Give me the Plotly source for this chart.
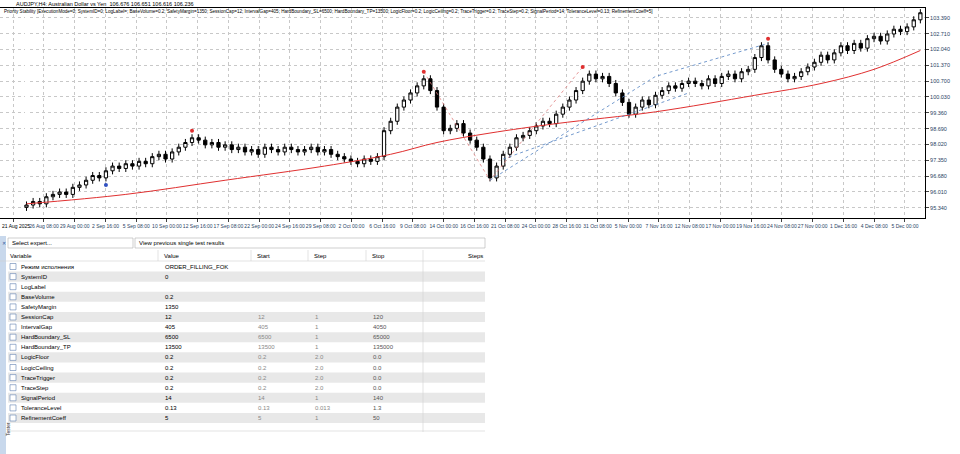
import plotly.graph_objects as go

W, H = 960, 454

# H4 closes
closes = [95.45, 95.6, 95.5, 95.8, 95.9, 96.0, 95.9, 96.2, 96.3, 96.5, 96.7, 96.6, 96.9, 97.1,
          97.0, 97.2, 97.1, 97.3, 97.2, 97.5, 97.6, 97.4, 97.7, 97.9, 98.1, 98.3, 98.2,
          98.0, 98.1, 97.9, 98.0, 97.8, 97.9, 97.7, 97.8, 97.6, 97.9, 97.8, 97.7, 97.9, 97.8,
          97.7, 97.8, 97.9, 97.7, 97.8, 97.6, 97.5, 97.4, 97.3,
          97.2, 97.4, 97.3, 97.5,
          98.6, 99.0, 99.6, 99.9, 100.2, 100.5, 100.8,
          100.3, 99.6, 98.6,
          98.7, 98.9, 98.5, 98.2, 97.9, 97.4, 96.6,
          97.1, 97.6, 97.9, 98.3, 98.4, 98.6, 98.8, 99.0, 98.9, 99.3, 99.6, 99.9, 100.3, 100.7, 101.0,
          100.8, 100.9, 100.6, 100.2, 99.8, 99.3,
          99.6, 99.9, 99.7, 100.1, 100.3, 100.5, 100.4, 100.6, 100.7,
          100.6, 100.5, 100.8, 100.6, 100.9, 101.0, 100.8, 101.1, 101.2,
          101.7, 102.2, 101.6, 101.2,
          101.0, 100.8, 100.9, 101.1, 101.3, 101.5, 101.8,
          101.6, 101.9, 102.2, 102.0, 102.3, 102.1, 102.5, 102.6, 102.4, 102.7, 102.9, 102.8, 103.0, 103.3, 103.6]
opens = [95.35] + closes[:-1]
wick = 0.15

ma_idx = [0, 15, 30, 45, 55, 62, 70, 80, 95, 110, 120, 128, 135]
ma_val = [95.5, 95.9, 96.5, 97.1, 97.6, 98.1, 98.5, 98.9, 99.4, 100.1, 100.6, 101.2, 102.0]

up_idx, up_val = [25, 60, 84, 112, 135], [98.6, 101.1, 101.3, 102.5, 103.9]
dn_idx, dn_val = [12], [96.3]

yticks = [103.39, 102.71, 102.04, 101.37, 100.70, 100.03, 99.36, 98.69, 98.02, 97.35, 96.68, 96.01, 95.34]
xlabels = ["21 Aug 2025", "26 Aug 08:00", "29 Aug 00:00", "2 Sep 16:00", "5 Sep 08:00", "10 Sep 00:00",
           "12 Sep 16:00", "17 Sep 08:00", "22 Sep 00:00", "24 Sep 16:00", "29 Sep 08:00", "2 Oct 00:00",
           "6 Oct 16:00", "9 Oct 08:00", "14 Oct 00:00", "16 Oct 16:00", "21 Oct 08:00", "24 Oct 00:00",
           "28 Oct 16:00", "31 Oct 08:00", "5 Nov 00:00", "7 Nov 16:00", "12 Nov 08:00", "17 Nov 00:00",
           "19 Nov 16:00", "24 Nov 08:00", "27 Nov 00:00", "1 Dec 16:00", "4 Dec 08:00", "5 Dec 00:00"]

variables = ["Режим исполнения", "SystemID", "LogLabel", "BaseVolume", "SafetyMargin", "SessionCap",
             "IntervalGap", "HardBoundary_SL", "HardBoundary_TP", "LogicFloor", "LogicCeiling",
             "TraceTrigger", "TraceStep", "SignalPeriod", "ToleranceLevel", "RefinementCoeff"]
values = ["ORDER_FILLING_FOK", "0", "", "0.2", "1350", "12", "405", "6500", "13500", "0.2", "0.2",
          "0.2", "0.2", "14", "0.13", "5"]
starts = ["", "", "", "", "", "12", "405", "6500", "13500", "0.2", "0.2", "0.2", "0.2", "14", "0.13", "5"]
steps = ["", "", "", "", "", "1", "1", "1", "1", "2.0", "2.0", "2.0", "2.0", "1", "0.013", "1"]
stops = ["", "", "", "", "", "120", "4050", "65000", "135000", "0.0", "0.0", "0.0", "0.0", "140", "1.3", "50"]

def px(x): return x / W
def py(y): return 1 - y / H

n = len(closes)
fig = go.Figure()
fig.add_trace(go.Candlestick(
    x=list(range(n)), open=opens, close=closes,
    high=[max(o, c) + wick for o, c in zip(opens, closes)],
    low=[min(o, c) - wick for o, c in zip(opens, closes)],
    increasing=dict(line=dict(color="black", width=1), fillcolor="white"),
    decreasing=dict(line=dict(color="black", width=1), fillcolor="black"),
    whiskerwidth=0, showlegend=False))
fig.add_scatter(x=ma_idx, y=ma_val, mode="lines", line=dict(color="#e03030", width=1, shape="spline"),
                showlegend=False)
fig.add_scatter(x=[60, 70, 84], y=[101.1, 96.5, 101.3], mode="lines",
                line=dict(color="#e08080", width=0.8, dash="dot"), showlegend=False)
fig.add_scatter(x=[70, 95, 112], y=[96.5, 100.9, 102.3], mode="lines",
                line=dict(color="#5080c0", width=0.8, dash="dot"), showlegend=False)
fig.add_scatter(x=[72, 100], y=[97.4, 100.2], mode="lines",
                line=dict(color="#5080c0", width=0.8, dash="dot"), showlegend=False)
fig.add_scatter(x=up_idx, y=up_val, mode="markers", marker=dict(color="#e03030", size=4), showlegend=False)
fig.add_scatter(x=dn_idx, y=dn_val, mode="markers", marker=dict(color="#3050c0", size=4), showlegend=False)

step = (n + 1) / (len(xlabels) - 0.5)
fig.update_xaxes(range=[-4, n - 0.3], tickvals=[i * step - 2 for i in range(len(xlabels))],
                 ticktext=[""] + xlabels[1:],
                 domain=[0, px(925)], showgrid=True, gridcolor="#c8c8c8", griddash="dot", automargin=False,
                 rangeslider_visible=False, tickfont=dict(size=5), tickangle=0, ticks="outside", ticklen=3,
                 showline=True, linecolor="black", mirror=True, anchor="y")
fig.update_yaxes(range=[94.9, 103.8], tickvals=yticks, ticktext=[f"{v:.3f}" for v in yticks],
                 side="right", domain=[py(218), py(8)], showgrid=True, gridcolor="#c8c8c8", automargin=False,
                 griddash="dot", tickfont=dict(size=5.5), ticks="outside", ticklen=3,
                 showline=True, linecolor="black", mirror=True)

shapes, ann = [], []
def text(x, y, s, size=6.5, color="black"):
    ann.append(dict(x=px(x), y=py(y), text=s, showarrow=False, xanchor="left", yanchor="middle",
                    font=dict(size=size, color=color), xref="paper", yref="paper"))
def rect(x0, y0, x1, y1, fill, line=None):
    shapes.append(dict(type="rect", xref="paper", yref="paper", x0=px(x0), x1=px(x1), y0=py(y1), y1=py(y0),
                       fillcolor=fill, line=dict(width=0.6 if line else 0, color=line or fill), layer="below"))
def hline(x0, x1, y):
    shapes.append(dict(type="line", xref="paper", yref="paper", x0=px(x0), x1=px(x1), y0=py(y), y1=py(y),
                       line=dict(color="#d0d0d0", width=0.6)))

text(14, 4, "AUDJPY,H4: Australian Dollar vs Yen  106.676 106.651 106.616 106.236", 5.5)
text(2, 12, "Priority Stability [ExecutionMode=0; SystemID=0; LogLabel=; BaseVolume=0.2; SafetyMargin=1350; SessionCap=12; IntervalGap=405; HardBoundary_SL=6500; HardBoundary_TP=13500; LogicFloor=0.2; LogicCeiling=0.2; TraceTrigger=0.2; TraceStep=0.2; SignalPeriod=14; ToleranceLevel=0.13; RefinementCoeff=5]", 4.6)
text(0, 226, xlabels[0], 5)

# tester panel
rect(0, 236, 6, H, "#c8d8ec")
rect(8, 238, 133, 248, "white", "#b0b0b0")
rect(135, 238, 485, 248, "white", "#b0b0b0")
text(10, 243, "Select expert...", 6)
text(137, 243, "View previous single test results", 6)
text(0, 243, "✕", 5, "#3060a0")
cols = [8, 162, 255, 312, 370, 427]
for i, h in enumerate(["Variable", "Value", "Start", "Step", "Stop"]):
    text(cols[i], 256, h, 6)
text(466, 256, "Steps", 6)
hline(0, 485, 261)
for c in cols[1:]:
    shapes.append(dict(type="line", xref="paper", yref="paper", x0=px(c - 4), x1=px(c - 4),
                       y0=py(432 if c == 427 else 261), y1=py(250), line=dict(color="#d0d0d0", width=0.6)))
rh = 10.1
for r, v in enumerate(variables):
    yc = 266.5 + r * rh
    if r % 2 == 1:
        rect(8, yc - rh / 2, 485, yc + rh / 2, "#e8e8e8")
    rect(10, yc - 3, 16, yc + 3, "white", "#6080b0")
    text(19, yc, v, 6)
    text(163, yc, values[r], 6)
    text(256, yc, starts[r], 6, "#888")
    text(313, yc, steps[r], 6, "#888")
    text(371, yc, stops[r], 6, "#555")
hline(8, 485, 431)
ann.append(dict(x=px(3), y=py(438), text="Tester", textangle=-90, showarrow=False,
                font=dict(size=5, color="#333"), xref="paper", yref="paper"))

fig.update_layout(width=W, height=H, margin=dict(l=0, r=0, t=0, b=0), paper_bgcolor="white",
                  plot_bgcolor="white", font=dict(family="Liberation Sans"),
                  shapes=shapes, annotations=ann)
fig.write_html("out.html", config={"displayModeBar": False},
               post_script="document.body.style.margin='0';")
